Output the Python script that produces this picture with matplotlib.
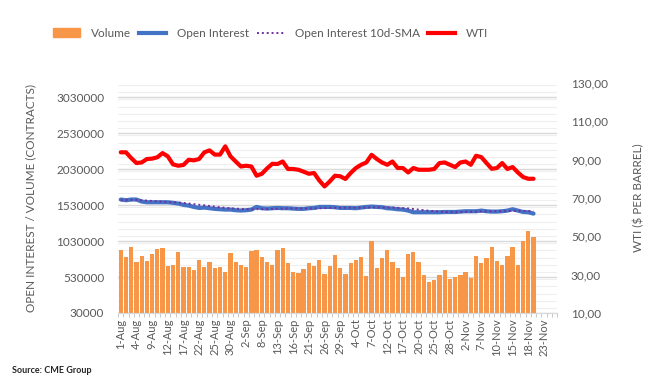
import matplotlib
matplotlib.use("Agg")
import matplotlib.pyplot as plt
import numpy as np
from matplotlib.patches import Patch
from matplotlib.lines import Line2D
from matplotlib.ticker import FuncFormatter, MultipleLocator

plt.rcParams['font.family'] = ['Lato', 'DejaVu Sans']

# volume in contracts (one bar per trading day, 1-Aug .. 21-Nov)
volume = [910, 812, 952, 742, 826, 756, 854, 924, 938, 686,
          700, 882, 672, 672, 630, 770, 672, 742, 658, 672,
          602, 868, 742, 700, 672, 896, 910, 812, 742, 700,
          910, 938, 728, 602, 589, 644, 728, 686, 770, 575,
          686, 840, 658, 575, 728, 770, 812, 547, 1036, 658,
          798, 910, 742, 658, 533, 854, 882, 742, 561, 463,
          491, 561, 630, 505, 533, 561, 602, 519, 826, 728,
          798, 952, 756, 700, 826, 952, 700, 1036, 1175, 1092]
volume = [v * 1000 for v in volume]

open_interest = [1608, 1598, 1608, 1608, 1580, 1570, 1570, 1570, 1570, 1570,
                 1562, 1552, 1534, 1524, 1505, 1491, 1496, 1487, 1478, 1473,
                 1468, 1468, 1459, 1455, 1459, 1468, 1505, 1487, 1482, 1487,
                 1491, 1487, 1487, 1482, 1478, 1478, 1487, 1491, 1505, 1505,
                 1505, 1501, 1491, 1491, 1491, 1487, 1496, 1505, 1510, 1505,
                 1501, 1487, 1482, 1473, 1468, 1454, 1431, 1431, 1431, 1431,
                 1431, 1431, 1435, 1435, 1435, 1440, 1445, 1445, 1445, 1454,
                 1445, 1440, 1440, 1445, 1454, 1473, 1454, 1435, 1431, 1412]
open_interest = [v * 1000 for v in open_interest]

oi_sma = [1600, 1600, 1602, 1603, 1598, 1593, 1588, 1583, 1578, 1574,
          1570, 1566, 1560, 1552, 1544, 1535, 1527, 1518, 1509, 1500,
          1493, 1487, 1481, 1477, 1474, 1472, 1474, 1475, 1476, 1477,
          1479, 1482, 1484, 1485, 1484, 1483, 1483, 1484, 1486, 1488,
          1491, 1492, 1493, 1494, 1494, 1494, 1495, 1496, 1497, 1498,
          1498, 1497, 1496, 1493, 1489, 1484, 1476, 1468, 1460, 1452,
          1445, 1440, 1436, 1434, 1433, 1434, 1435, 1437, 1439, 1441,
          1443, 1444, 1445, 1446, 1447, 1450, 1451, 1450, 1448, 1443]
oi_sma = [v * 1000 for v in oi_sma]

wti = [93.8, 93.8, 90.8, 88.2, 88.5, 90.3, 90.5, 91.2, 93.4, 91.7,
       87.5, 86.8, 87.2, 89.9, 89.6, 90.3, 93.8, 94.8, 92.6, 92.6,
       96.9, 91.7, 89.0, 86.4, 86.8, 86.4, 81.6, 82.6, 85.4, 87.8,
       87.7, 89.0, 85.1, 85.1, 84.7, 83.7, 82.6, 83.0, 79.1, 76.0,
       78.6, 81.6, 81.3, 79.9, 83.0, 85.6, 87.3, 88.5, 92.5, 90.3,
       88.5, 87.3, 89.0, 85.6, 85.6, 83.3, 85.6, 84.7, 84.7, 84.7,
       85.1, 88.2, 88.5, 87.3, 86.1, 88.5, 89.0, 87.3, 92.0, 91.3,
       88.2, 85.2, 85.6, 88.2, 85.1, 86.1, 83.3, 80.9, 80.0, 80.0]

tick_labels = ['1-Aug', '4-Aug', '9-Aug', '12-Aug', '17-Aug', '22-Aug', '25-Aug',
               '30-Aug', '2-Sep', '8-Sep', '13-Sep', '16-Sep', '21-Sep', '26-Sep',
               '29-Sep', '4-Oct', '7-Oct', '12-Oct', '17-Oct', '20-Oct', '25-Oct',
               '28-Oct', '2-Nov', '7-Nov', '10-Nov', '15-Nov', '18-Nov', '23-Nov']
n_categories = 84

grey = '#595959'
x = np.arange(len(volume))

fig = plt.figure(figsize=(6.6, 3.91), dpi=100)
ax = fig.add_axes([0.179, 0.1995, 0.665, 0.5885])
ax2 = ax.twinx()

ax.bar(x, volume, width=0.82, color='#F79646', zorder=2)
ax.plot(x, open_interest, color='#4472C4', lw=3, solid_capstyle='round', zorder=3)
ax.plot(x, oi_sma, color='#7030A0', lw=1.4, linestyle=(0, (1, 1.5)), zorder=4)
ax2.plot(x, wti, color='#FF0000', lw=3, solid_capstyle='round', zorder=3)

ax.set_xlim(-0.5, n_categories - 0.5)
ax.set_ylim(30000, 3230000)
ax.set_yticks(np.arange(30000, 3030001, 500000))
ax.yaxis.set_major_formatter(FuncFormatter(lambda v, p: f'{int(round(v))}'))
ax.yaxis.set_minor_locator(MultipleLocator(100000))
ax.grid(which='major', axis='y', color='#d9d9d9', lw=1, zorder=0)
ax.grid(which='minor', axis='y', color='#efefef', lw=0.8, zorder=0)
ax.set_axisbelow(True)

ax2.set_ylim(10, 130)
ax2.set_yticks(np.arange(10, 131, 20))
ax2.yaxis.set_major_formatter(FuncFormatter(lambda v, p: f'{v:.2f}'.replace('.', ',')))

ax.set_xticks(np.arange(0, len(tick_labels) * 3, 3))
ax.set_xticklabels(tick_labels, rotation=90, fontsize=8, color=grey)
ax.set_xticks(np.arange(-0.5, n_categories, 1), minor=True)
ax.tick_params(axis='x', which='major', length=0, pad=4)
ax.tick_params(axis='x', which='minor', length=3, color='#bfbfbf')
ax.tick_params(axis='y', which='both', length=0, labelsize=8.5, labelcolor=grey, pad=10)
ax2.tick_params(axis='y', length=0, labelsize=8.5, labelcolor=grey, pad=10)

for a in (ax, ax2):
    for s in ('top', 'left', 'right'):
        a.spines[s].set_visible(False)
    a.spines['bottom'].set_color('#d9d9d9')

ax.set_ylabel('OPEN INTEREST / VOLUME (CONTRACTS)', fontsize=8.5, color=grey, labelpad=14)
ax2.set_ylabel('WTI ($ PER BARREL)', fontsize=8.5, color=grey, labelpad=18)

handles = [Patch(color='#F79646'),
           Line2D([], [], color='#4472C4', lw=3),
           Line2D([], [], color='#7030A0', lw=1.4, linestyle=(0, (1, 1.5))),
           Line2D([], [], color='#FF0000', lw=3)]
labels = ['Volume', 'Open Interest', 'Open Interest 10d-SMA', 'WTI']
fig.legend(handles, labels, loc='center', bbox_to_anchor=(0.41, 0.915), ncol=4,
           frameon=False, fontsize=8.5, labelcolor=grey, handlelength=2.3,
           handletextpad=0.9, columnspacing=0.7)

fig.text(0.018, 0.046, 'Source: CME Group', fontsize=6.5, color='#262626', fontweight='bold')

fig.savefig('out.png', dpi=100)
